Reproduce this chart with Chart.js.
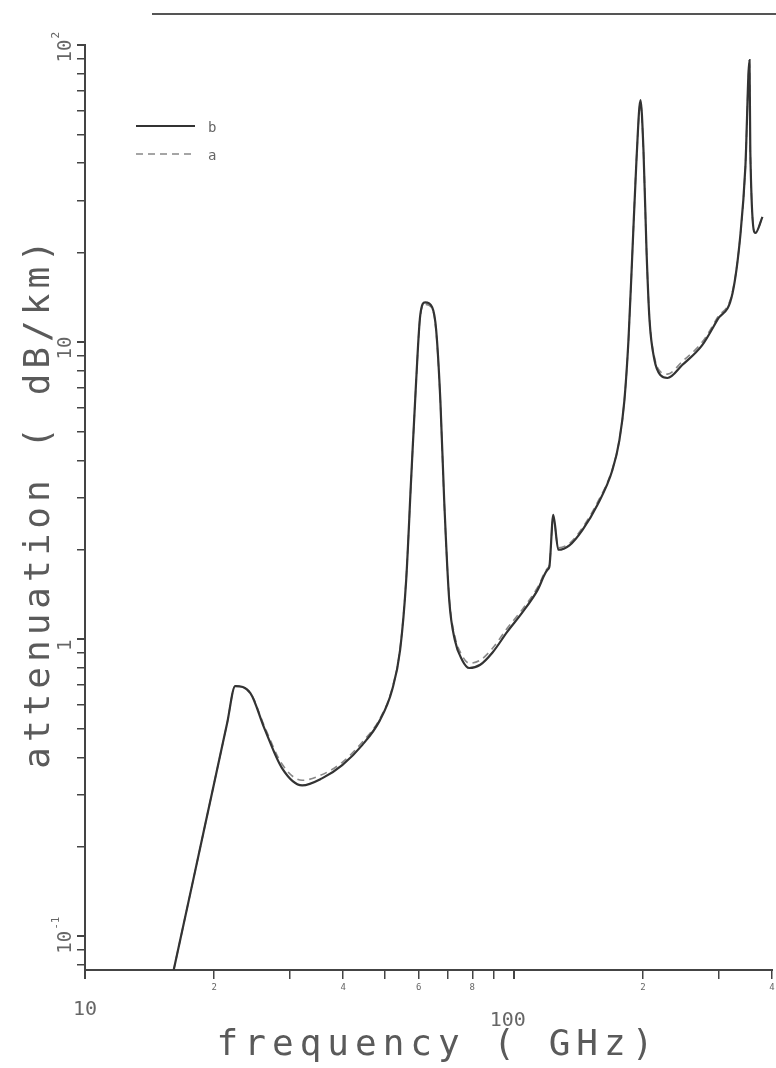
<!DOCTYPE html>
<html>
<head>
<meta charset="utf-8">
<script src="https://cdn.jsdelivr.net/npm/chart.js@4.4.1/dist/chart.umd.min.js"></script>
<style>
  html, body { margin: 0; padding: 0; background: #fff; }
  canvas { display: block; }
</style>
</head>
<body>
<canvas id="attChart" width="776" height="1068"></canvas>
<script>
// frequency in GHz
const freqs = [16.1, 17.97, 20.0, 21.45, 22.4, 24.3, 26.2, 28.8, 32.1, 35.7, 39.8, 44.3, 48.7, 52.0,
    54.3, 56.1, 57.6, 59.2, 60.5, 62.1, 64.5, 65.9, 67.4, 68.8, 70.7, 72.9, 75.8, 78.7, 83.5, 89.1,
    96.6, 104.7, 113.5, 119.7, 121, 123.6, 127, 134.8, 144.5, 156.6, 169.8, 176.3, 181.1, 185.1,
    189.1, 193.2, 197.4, 200.6, 203.9, 207.2, 212.8, 219.8, 228.2, 247, 275, 298.5, 323.6, 337.9,
    346.7, 354.5, 356, 366, 380];

// attenuation in dB/km
const seriesB = [0.077, 0.160, 0.327, 0.521, 0.695, 0.658, 0.501, 0.368, 0.322, 0.340, 0.377, 0.44,
    0.533, 0.673, 0.918, 1.58, 3.43, 7.45, 12.3, 13.6, 13.1, 11.0, 6.38, 2.94, 1.35, 0.99, 0.85,
    0.80, 0.82, 0.90, 1.06, 1.23, 1.46, 1.71, 1.75, 2.62, 2.0, 2.07, 2.33, 2.83, 3.71, 4.68, 6.38,
    10.2, 20.4, 41, 65.3, 44.3, 20.4, 11.9, 8.7, 7.74, 7.57, 8.37, 9.77, 11.9, 14.6, 23.3, 38.8, 89,
    44, 23.3, 26.4];

const seriesA = [0.077, 0.160, 0.327, 0.521, 0.695, 0.66, 0.51, 0.38, 0.335, 0.35, 0.385, 0.45,
    0.54, 0.68, 0.93, 1.6, 3.4, 7.4, 12.2, 13.4, 13.0, 10.8, 6.3, 2.9, 1.38, 1.02, 0.88,
    0.83, 0.85, 0.93, 1.09, 1.26, 1.49, 1.73, 1.77, 2.55, 2.03, 2.1, 2.37, 2.88, 3.75, 4.7, 6.4,
    10.2, 20.4, 41, 64, 44, 20.4, 12.0, 8.9, 7.95, 7.8, 8.6, 10.0, 12.1, 14.8, 23.3, 38.8, 87,
    44, 23.3, 26.4];

const seriesNames = ['b', 'a'];

// axis ticks and their labels
const xTicks = [10, 20, 30, 40, 50, 60, 70, 80, 90, 100, 200, 300, 400];
const xLabelVals = [10, 20, 40, 60, 80, 100, 200, 400];
const xLabelText = ['10', '2', '4', '6', '8', '100', '2', '4'];
const yTicks = [0.08, 0.09, 0.1, 0.2, 0.3, 0.4, 0.5, 0.6, 0.7, 0.8, 0.9, 1, 2, 3, 4, 5, 6, 7, 8, 9,
    10, 20, 30, 40, 50, 60, 70, 80, 90, 100];
const yLabelVals = [0.1, 1, 10, 100];
const yLabelText = ['10', '1', '10', '10'];
const yLabelExp = ['-1', '', '', '2'];

const xTitle = 'frequency ( GHz)';
const yTitle = 'attenuation ( dB/km)';

const MONO = '"DejaVu Sans Mono", monospace';
const AXIS = '#444';
const TEXT = '#666';

const isDecade = v => Math.abs(Math.log10(v) - Math.round(Math.log10(v))) < 1e-6;

const textPlugin = {
    id: 'plotText',
    afterDraw(chart) {
        const ctx = chart.ctx;
        const xs = chart.scales.x;
        const ys = chart.scales.y;
        const area = chart.chartArea;
        ctx.save();

        // stray rule at the top of the scanned page
        ctx.strokeStyle = '#555';
        ctx.lineWidth = 2;
        ctx.beginPath();
        ctx.moveTo(152, 14);
        ctx.lineTo(776, 14);
        ctx.stroke();

        ctx.fillStyle = TEXT;
        ctx.textAlign = 'center';
        ctx.textBaseline = 'middle';

        // x tick labels
        xLabelVals.forEach((v, i) => {
            const px = xs.getPixelForValue(v);
            if (v === 10) {
                ctx.font = '20px ' + MONO;
                ctx.fillText(xLabelText[i], px, area.bottom + 40);
            } else if (v === 100) {
                ctx.font = '20px ' + MONO;
                ctx.fillText(xLabelText[i], px - 6, area.bottom + 51);
            } else {
                ctx.font = '9px ' + MONO;
                ctx.fillText(xLabelText[i], px, area.bottom + 18);
            }
        });

        // y tick labels, rotated
        yLabelVals.forEach((v, i) => {
            const py = ys.getPixelForValue(v);
            ctx.save();
            ctx.translate(area.left - 19, py + 6);
            ctx.rotate(-Math.PI / 2);
            ctx.font = '19px ' + MONO;
            ctx.fillText(yLabelText[i], 0, 0);
            if (yLabelExp[i]) {
                const w = ctx.measureText(yLabelText[i]).width;
                ctx.font = '11px ' + MONO;
                ctx.textAlign = 'left';
                ctx.fillText(yLabelExp[i], w / 2 + 1, -10);
            }
            ctx.restore();
        });

        // axis titles
        ctx.fillStyle = '#5a5a5a';
        ctx.font = '36px ' + MONO;
        ctx.letterSpacing = '6px';
        ctx.fillText(xTitle, 438, 1046);
        ctx.save();
        ctx.translate(40, 502);
        ctx.rotate(-Math.PI / 2);
        ctx.letterSpacing = '5px';
        ctx.fillText(yTitle, 0, 0);
        ctx.restore();
        ctx.letterSpacing = '0px';

        // legend
        const legendRows = [126, 154];
        chart.data.datasets.forEach((ds, i) => {
            const y = legendRows[i];
            ctx.strokeStyle = ds.borderColor;
            ctx.lineWidth = ds.borderWidth;
            ctx.setLineDash(ds.borderDash || []);
            ctx.beginPath();
            ctx.moveTo(136, y);
            ctx.lineTo(195, y);
            ctx.stroke();
            ctx.setLineDash([]);
            ctx.fillStyle = TEXT;
            ctx.font = '14px ' + MONO;
            ctx.textAlign = 'left';
            ctx.fillText(ds.label, 208, y + 2);
        });

        ctx.restore();
    }
};

const ctx = document.getElementById('attChart').getContext('2d');
new Chart(ctx, {
    type: 'line',
    data: {
        datasets: [{
            label: seriesNames[0],
            data: freqs.map((f, i) => ({ x: f, y: seriesB[i] })),
            borderColor: '#333',
            borderWidth: 2.2,
            pointRadius: 0,
            cubicInterpolationMode: 'monotone',
            order: 0
        }, {
            label: seriesNames[1],
            data: freqs.map((f, i) => ({ x: f, y: seriesA[i] })),
            borderColor: '#888',
            borderWidth: 1.6,
            borderDash: [7, 5],
            pointRadius: 0,
            cubicInterpolationMode: 'monotone',
            order: 1
        }]
    },
    options: {
        responsive: false,
        animation: false,
        layout: {
            padding: { top: 45, right: 4, left: 0, bottom: 0 }
        },
        plugins: {
            legend: { display: false },
            tooltip: { enabled: false }
        },
        scales: {
            x: {
                type: 'logarithmic',
                position: 'bottom',
                min: 10,
                max: 400,
                afterBuildTicks: scale => { scale.ticks = xTicks.map(v => ({ value: v })); },
                afterFit: scale => { scale.height = 98; },
                ticks: { display: false },
                border: { display: true, color: AXIS, width: 2 },
                grid: {
                    drawOnChartArea: false,
                    drawTicks: true,
                    tickLength: 9,
                    color: AXIS,
                    lineWidth: c => (c.tick && isDecade(c.tick.value) ? 2 : 1.5)
                }
            },
            y: {
                type: 'logarithmic',
                position: 'left',
                min: 0.077,
                max: 100,
                afterBuildTicks: scale => { scale.ticks = yTicks.map(v => ({ value: v })); },
                afterFit: scale => { scale.width = 85; },
                ticks: { display: false },
                border: { display: true, color: AXIS, width: 2 },
                grid: {
                    drawOnChartArea: false,
                    drawTicks: true,
                    tickLength: 8,
                    color: AXIS,
                    lineWidth: c => (c.tick && isDecade(c.tick.value) ? 2 : 1.5)
                }
            }
        }
    },
    plugins: [textPlugin]
});
</script>
</body>
</html>
